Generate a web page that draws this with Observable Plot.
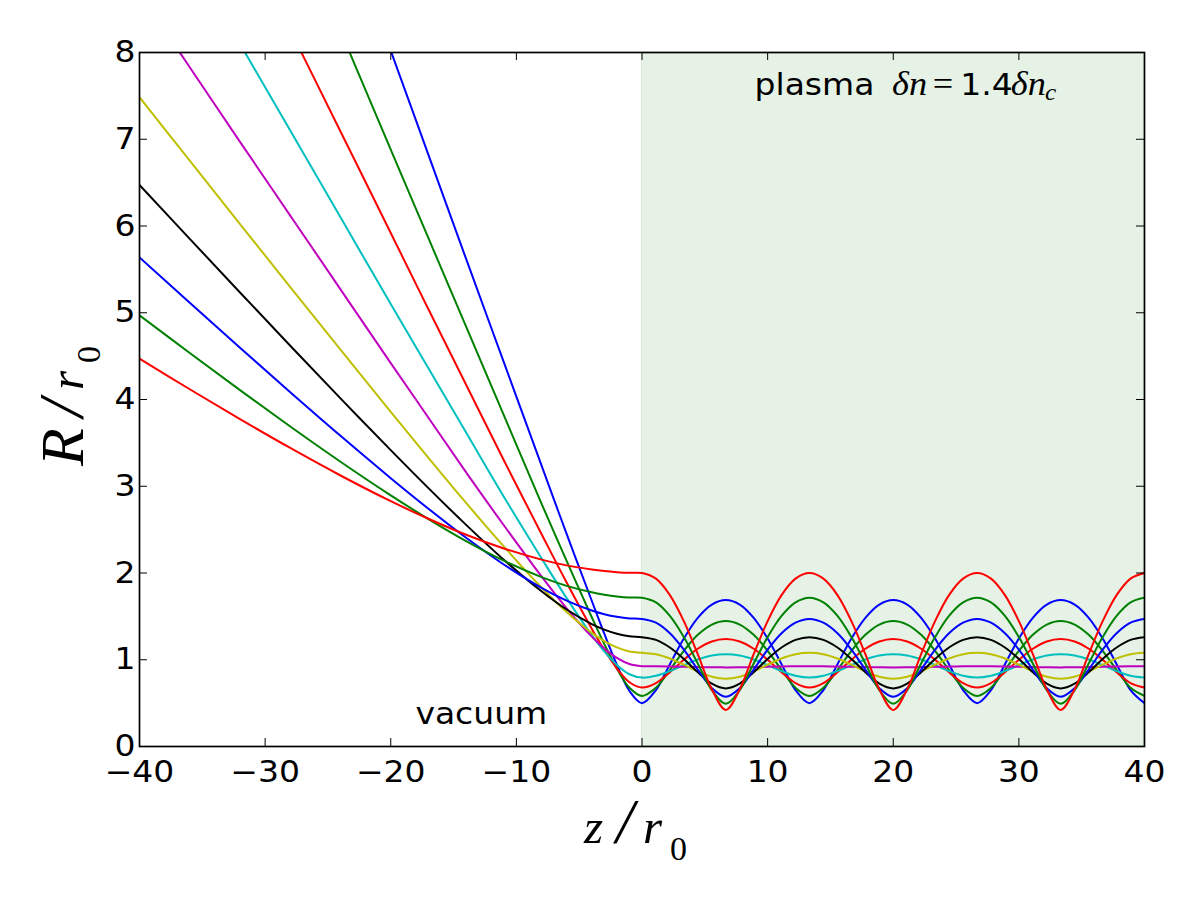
<!DOCTYPE html>
<html><head><meta charset="utf-8">
<script src="https://cdn.jsdelivr.net/npm/d3@7"></script>
<script src="https://cdn.jsdelivr.net/npm/@observablehq/plot@0.6"></script>
<style>
html,body{margin:0;padding:0;background:#fff;}
#chart{width:1200px;height:900px;overflow:hidden;}
</style></head><body><div id="chart"></div>
<script>
// ---- data ----
const zValues = [-40,-36,-32,-28,-24,-20,-17,-14,-11,-8,-6,-4,-3,-2,-1,0,
  1.11,2.22,3.33,4.44,5.56,6.67,7.78,8.89,10,11.11,12.22,13.33,
  14.44,15.56,16.67,17.78,18.89,20,21.11,22.22,23.33,24.44,25.56,26.67,
  27.78,28.89,30,31.11,32.22,33.33,34.44,35.56,36.67,37.78,38.89,40];

const rBlue1 = [16.01,14.41,12.81,11.21,9.61,8.02,6.82,5.62,4.43,3.24,2.45,1.68,1.30,0.943,0.640,0.5,
  0.651,0.949,1.245,1.483,1.636,1.688,1.636,1.483,1.245,0.949,0.651,0.5,
  0.651,0.949,1.245,1.483,1.636,1.688,1.636,1.483,1.245,0.949,0.651,0.5,
  0.651,0.949,1.245,1.483,1.636,1.688,1.636,1.483,1.245,0.949,0.651,0.5];
const rGreen1 = [13.73,12.36,10.99,9.62,8.25,6.88,5.86,4.84,3.82,2.80,2.14,1.49,1.18,0.90,0.677,0.583,
  0.677,0.882,1.103,1.287,1.406,1.447,1.406,1.287,1.103,0.882,0.677,0.583,
  0.677,0.882,1.103,1.287,1.406,1.447,1.406,1.287,1.103,0.882,0.677,0.583,
  0.677,0.882,1.103,1.287,1.406,1.447,1.406,1.287,1.103,0.882,0.677,0.583];
const rRed1 = [11.78,10.60,9.43,8.26,7.09,5.92,5.04,4.17,3.30,2.45,1.89,1.358,1.114,0.899,0.741,0.680,
  0.731,0.856,1.000,1.127,1.211,1.240,1.211,1.127,1.000,0.856,0.731,0.680,
  0.731,0.856,1.000,1.127,1.211,1.240,1.211,1.127,1.000,0.856,0.731,0.680,
  0.731,0.856,1.000,1.127,1.211,1.240,1.211,1.127,1.000,0.856,0.731,0.680];
const rCyan = [10.11,9.11,8.10,7.10,6.10,5.10,4.36,3.62,2.88,2.17,1.71,1.283,1.096,0.940,0.833,0.794,
  0.815,0.869,0.938,1.003,1.048,1.063,1.048,1.003,0.938,0.869,0.815,0.794,
  0.815,0.869,0.938,1.003,1.048,1.063,1.048,1.003,0.938,0.869,0.815,0.794,
  0.815,0.869,0.938,1.003,1.048,1.063,1.048,1.003,0.938,0.869,0.815,0.794];
const rMagenta = [8.69,7.83,6.97,6.12,5.27,4.42,3.79,3.16,2.55,1.96,1.593,1.266,1.130,1.022,0.951,0.926,
  0.925,0.922,0.919,0.915,0.913,0.912,0.913,0.915,0.919,0.922,0.925,0.926,
  0.925,0.922,0.919,0.915,0.913,0.912,0.913,0.915,0.919,0.922,0.925,0.926,
  0.925,0.922,0.919,0.915,0.913,0.912,0.913,0.915,0.919,0.922,0.925,0.926];
const rYellow = [7.485,6.753,6.023,5.296,4.574,3.858,3.328,2.808,2.306,1.833,1.550,1.310,1.215,1.142,1.096,1.080,
  1.063,1.014,0.943,0.866,0.805,0.781,0.805,0.866,0.943,1.014,1.063,1.080,
  1.063,1.014,0.943,0.866,0.805,0.781,0.805,0.866,0.943,1.014,1.063,1.080,
  1.063,1.014,0.943,0.866,0.805,0.781,0.805,0.866,0.943,1.014,1.063,1.080];
const rBlack = [6.473,5.852,5.234,4.620,4.013,3.416,2.978,2.555,2.153,1.789,1.579,1.411,1.347,1.299,1.270,1.260,
  1.229,1.141,1.009,0.856,0.725,0.670,0.725,0.856,1.009,1.141,1.229,1.260,
  1.229,1.141,1.009,0.856,0.725,0.670,0.725,0.856,1.009,1.141,1.229,1.260,
  1.229,1.141,1.009,0.856,0.725,0.670,0.725,0.856,1.009,1.141,1.229,1.260];
const rBlue2 = [5.638,5.115,4.596,4.084,3.581,3.093,2.741,2.406,2.098,1.829,1.681,1.567,1.525,1.495,1.476,1.470,
  1.427,1.305,1.116,0.887,0.673,0.574,0.673,0.887,1.116,1.305,1.427,1.470,
  1.427,1.305,1.116,0.887,0.673,0.574,0.673,0.887,1.116,1.305,1.427,1.470,
  1.427,1.305,1.116,0.887,0.673,0.574,0.673,0.887,1.116,1.305,1.427,1.470];
const rGreen2 = [4.971,4.536,4.108,3.689,3.283,2.895,2.622,2.368,2.142,1.952,1.852,1.777,1.750,1.730,1.718,1.715,
  1.661,1.505,1.261,0.957,0.650,0.492,0.650,0.957,1.261,1.505,1.661,1.715,
  1.661,1.505,1.261,0.957,0.650,0.492,0.650,0.957,1.261,1.505,1.661,1.715,
  1.661,1.505,1.261,0.957,0.650,0.492,0.650,0.957,1.261,1.505,1.661,1.715];
const rRed2 = [4.472,4.118,3.774,3.441,3.124,2.828,2.625,2.441,2.283,2.154,2.088,2.040,2.022,2.010,2.002,2.000,
  1.935,1.745,1.445,1.065,0.659,0.422,0.659,1.065,1.445,1.745,1.935,2.000,
  1.935,1.745,1.445,1.065,0.659,0.422,0.659,1.065,1.445,1.745,1.935,2.000,
  1.935,1.745,1.445,1.065,0.659,0.422,0.659,1.065,1.445,1.745,1.935,2.000];

const seriesList = [rBlue1, rGreen1, rRed1, rCyan, rMagenta, rYellow, rBlack, rBlue2, rGreen2, rRed2];
const seriesColors = ["#0000ff","#008000","#ff0000","#00bfbf","#bf00bf","#bfbf00","#000000","#0000ff","#008000","#ff0000"];

const xTicks = [-40,-30,-20,-10,0,10,20,30,40];
const yTicks = [0,1,2,3,4,5,6,7,8];
const xDomain = [-40, 40];
const yDomain = [0, 8];
const plasmaStart = [0];
const plasmaEnd = [40];
const plasmaLabelPos = [9, 7.5];
const vacuumLabelPos = [-18, 0.25];

// ---- layout ----
const W = 1200, H = 900, mL = 139, mR = 56, mT = 52, mB = 154;
const plotW = W - mL - mR, plotH = H - mT - mB;
const STRETCH = 1.1;
const fmt = d => d < 0 ? "\u2212" + Math.abs(d) : String(d);

const regionRows = plasmaStart.map((s, i) => ({x1: s, x2: plasmaEnd[i], y1: yDomain[0], y2: yDomain[1]}));

const lineMarks = seriesList.map((arr, i) =>
  Plot.line(zValues.map((z, j) => ({z, r: arr[j]})), {
    x: "z", y: "r", stroke: seriesColors[i], strokeWidth: 2, curve: "catmull-rom", clip: true
  })
);

const plot = Plot.plot({
  width: W, height: H,
  marginLeft: mL, marginRight: mR, marginTop: mT, marginBottom: mB,
  x: {domain: xDomain, label: null},
  y: {domain: yDomain, label: null},
  style: {fontFamily: "DejaVu Sans", fontSize: "30px", color: "black", background: "white"},
  marks: [
    Plot.rect(regionRows, {x1: "x1", x2: "x2", y1: "y1", y2: "y2", fill: "green", fillOpacity: 0.1, stroke: "green", strokeOpacity: 0.1}),
    ...lineMarks,
    Plot.tickX(xTicks, {x: d => d, insetTop: plotH - 8, stroke: "black", strokeWidth: 1}),
    Plot.tickX(xTicks, {x: d => d, insetBottom: plotH - 8, stroke: "black", strokeWidth: 1}),
    Plot.tickY(yTicks, {y: d => d, insetRight: plotW - 8, stroke: "black", strokeWidth: 1}),
    Plot.tickY(yTicks, {y: d => d, insetLeft: plotW - 8, stroke: "black", strokeWidth: 1}),
    Plot.axisX({ticks: xTicks, tickSize: 0, tickPadding: 14, tickFormat: fmt, label: null, fontSize: 30}),
    Plot.axisY({ticks: yTicks, tickSize: 0, tickPadding: 4, tickFormat: fmt, label: null, fontSize: 30}),
    Plot.frame({stroke: "black", strokeWidth: 1.7})
  ]
});

document.getElementById("chart").appendChild(plot);

const svg = d3.select(plot);
const xs = plot.scale("x"), ys = plot.scale("y");
const serif = "'Liberation Serif', 'DejaVu Serif', serif";

// widen the sans tick labels a little, as in the reference
svg.selectAll('g[aria-label$="tick label"] text').each(function () {
  const len = this.getComputedTextLength();
  if (len > 0) {
    this.setAttribute("textLength", (len * STRETCH).toFixed(1));
    this.setAttribute("lengthAdjust", "spacingAndGlyphs");
  }
});

// x-axis label  z/r_0
const xl = svg.append("text")
  .attr("y", 843).attr("text-anchor", "start")
  .style("font-family", serif).style("font-size", "49px").attr("fill", "black");
xl.append("tspan").attr("x", 584).style("font-style", "italic").text("z");
xl.append("tspan").attr("x", 616).style("font-style", "italic").style("font-size", "64px").text("/");
xl.append("tspan").attr("x", 643).style("font-style", "italic").text("r");
xl.append("tspan").attr("x", 670).attr("dy", 17).style("font-size", "34px").text("0");

// y-axis label  R/r_0 (rotated)
const yl = svg.append("text")
  .attr("transform", "translate(83,0) rotate(-90)")
  .attr("y", 0).attr("text-anchor", "start")
  .style("font-family", serif).style("font-size", "62px").attr("fill", "black");
yl.append("tspan").attr("x", -466).style("font-style", "italic").text("R");
yl.append("tspan").attr("x", -417).style("font-style", "italic").style("font-size", "64px").text("/");
yl.append("tspan").attr("x", -390).style("font-style", "italic").style("font-size", "49px").text("r");
yl.append("tspan").attr("x", -363).attr("dy", 17).style("font-size", "34px").text("0");

// annotation: plasma  δn = 1.4 δn_c
const pl = svg.append("text")
  .attr("transform", `translate(${xs.apply(plasmaLabelPos[0])},${ys.apply(plasmaLabelPos[1])}) scale(${STRETCH},1)`)
  .attr("text-anchor", "start")
  .style("font-family", "DejaVu Sans").style("font-size", "30px").attr("fill", "black");
pl.append("tspan").attr("x", 0).text("plasma");
pl.append("tspan").attr("x", 125).style("font-family", serif).style("font-style", "italic").style("font-size", "33px").text("\u03b4n");
pl.append("tspan").attr("x", 162).style("font-family", serif).style("font-size", "33px").text("=");
pl.append("tspan").attr("x", 187).text("1.4");
pl.append("tspan").attr("x", 233).style("font-family", serif).style("font-style", "italic").style("font-size", "33px").text("\u03b4n");
pl.append("tspan").attr("x", 264).attr("dy", 5).style("font-family", serif).style("font-style", "italic").style("font-size", "23px").text("c");

// annotation: vacuum
svg.append("text")
  .attr("transform", `translate(${xs.apply(vacuumLabelPos[0])},${ys.apply(vacuumLabelPos[1])}) scale(${STRETCH},1)`)
  .attr("text-anchor", "start")
  .style("font-family", "DejaVu Sans").style("font-size", "30px").attr("fill", "black")
  .text("vacuum");
</script>
</body></html>
